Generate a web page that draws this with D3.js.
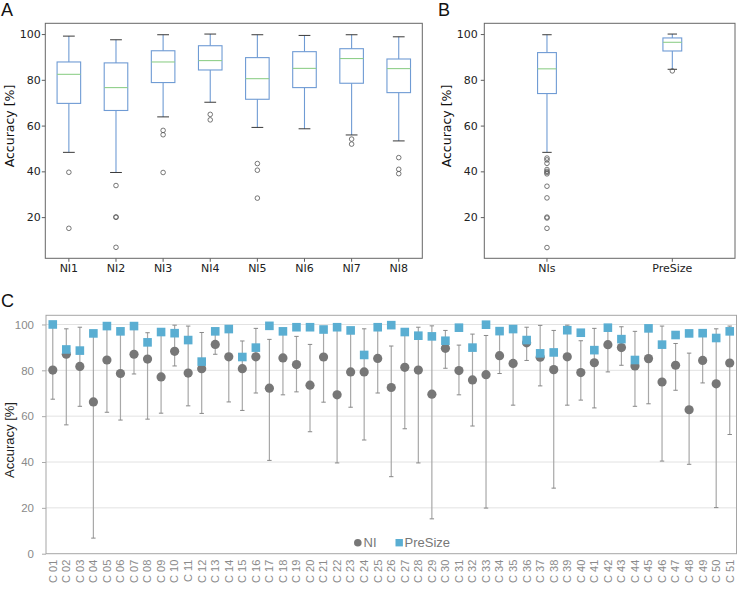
<!DOCTYPE html>
<html><head><meta charset="utf-8">
<script src="https://cdn.jsdelivr.net/npm/d3@7"></script>
<style>
html,body{margin:0;padding:0;background:#fff;}
svg{display:block;}
</style></head>
<body><svg id="chart" width="739" height="590"></svg>
<script>
// ---------- Panel A data (per NI boxplots) ----------
const niLabels = ["NI1","NI2","NI3","NI4","NI5","NI6","NI7","NI8"];
const niWhiskerLow  = [48.3, 39.5, 63.8, 70.2, 59.2, 58.6, 55.9, 53.3];
const niQ1          = [69.7, 66.6, 78.8, 84.3, 71.5, 76.6, 78.5, 74.4];
const niMedian      = [82.4, 76.6, 87.8, 88.4, 80.5, 85.0, 89.3, 84.9];
const niQ3          = [87.8, 87.4, 92.7, 94.9, 89.7, 92.3, 93.6, 89.1];
const niWhiskerHigh = [99.1, 97.5, 99.7, 100.0, 99.7, 99.4, 99.7, 98.8];
const niOutliers = [
  [39.6, 15.1],
  [33.8, 20.1, 19.9, 6.8],
  [57.9, 56.0, 39.5],
  [64.9, 62.5],
  [43.4, 40.5, 28.3],
  [],
  [54.1, 51.9],
  [46.0, 40.9, 39.0]
];

// ---------- Panel B data (NIs vs PreSize) ----------
const bLabels = ["NIs","PreSize"];
const bWhiskerLow  = [48.3, 84.6];
const bQ1          = [74.0, 92.6];
const bMedian      = [84.8, 96.4];
const bQ3          = [91.9, 98.3];
const bWhiskerHigh = [99.7, 100.0];
const bOutliers = [
  [45.8, 45.0, 43.5, 40.8, 40.0, 39.5, 38.9, 33.5, 28.4, 20.0, 19.6, 15.1, 6.7],
  [83.9]
];

// ---------- Panel C data (per case) ----------
const cases = d3.range(1, 52).map(i => "C " + String(i).padStart(2, "0"));
const niMean = [80.1,87.0,81.7,66.2,84.5,78.6,87.0,84.9,77.1,88.3,78.8,80.7,91.3,85.9,80.7,85.9,72.2,85.4,82.5,73.5,
  85.8,69.3,79.3,79.3,85.2,72.5,81.3,80.1,69.6,89.6,79.9,75.8,78.1,86.4,83.0,92.0,85.7,80.3,85.9,79.0,
  83.3,91.2,89.9,81.9,85.1,74.9,82.2,62.8,84.3,74.1,83.2];
const niMax = [99.5,98.1,98.8,96.5,99.5,97.5,99.5,96.4,97.0,99.7,99.3,96.5,97.5,98.0,92.8,98.3,93.5,97.0,94.8,91.3,
  98.0,98.8,97.4,98.1,98.8,90.6,97.0,98.8,99.4,97.4,91.0,95.8,95.2,97.0,98.0,98.8,99.6,97.4,99.7,92.9,
  98.3,98.6,99.0,97.0,98.3,99.3,91.7,87.5,96.0,98.1,99.3];
const niMin = [67.4,56.2,64.3,6.8,61.7,58.3,78.4,58.7,61.3,81.9,64.5,61.2,87.0,66.2,62.5,70.1,40.7,69.3,70.6,53.2,
  66.1,39.6,63.9,49.6,70.1,33.6,54.5,39.6,15.2,80.9,69.3,55.7,19.9,78.6,64.8,84.3,73.2,28.6,64.8,67.0,
  63.6,79.3,82.2,64.3,65.4,40.4,71.3,39.0,74.5,20.1,52.0];
const preSize = [100.0,89.1,88.6,96.1,99.3,97.0,99.3,92.2,96.7,96.2,93.2,83.8,97.0,98.0,85.8,89.9,99.4,97.0,98.8,98.8,
  97.8,98.8,97.4,86.7,98.8,99.7,96.7,95.1,94.8,92.9,98.6,89.9,99.9,97.1,98.0,93.2,87.4,87.8,97.5,96.4,
  88.8,98.6,93.6,84.5,98.3,91.2,95.4,96.1,96.2,94.1,97.0];
const yTicksAB = [20, 40, 60, 80, 100];
const yTicksC = [0, 20, 40, 60, 80, 100];

// ---------- styling ----------
const mplFont = "'DejaVu Sans', sans-serif";
const cFont = "'Liberation Sans', Arial, sans-serif";
const boxColor = "#6f9bd4";
const medColor = "#8fcf8a";
const capColor = "#3a3a3a";
const svg = d3.select("#chart");

function boxPanel(g, labels, lo, q1, med, q3, hi, outs, xRange, boxFrac, tickPad) {
  const x = d3.scaleBand().domain(labels).range(xRange);
  const y = d3.scaleLinear().domain([2.0, 104.7]).range([258.3, 23.3]);
  const bw = x.bandwidth() * boxFrac;
  // axes
  const ya = g.append("g").attr("transform", `translate(${xRange[0]},0)`)
    .call(d3.axisLeft(y).tickValues(yTicksAB).tickSize(3.5).tickPadding(tickPad));
  const xa = g.append("g").attr("transform", `translate(0,258.3)`)
    .call(d3.axisBottom(x).tickSize(3.5).tickPadding(2));
  [ya, xa].forEach(a => {
    a.select(".domain").remove();
    a.selectAll("line").attr("stroke", "#333").attr("stroke-width", 0.8);
    a.selectAll("text").attr("font-family", mplFont).attr("font-size", 11).attr("fill", "#222");
  });
  const items = labels.map((l, i) => ({l, lo: lo[i], q1: q1[i], med: med[i], q3: q3[i], hi: hi[i], outs: outs[i]}));
  const bx = g.selectAll(".bx").data(items).join("g");
  const cx = d => x(d.l) + x.bandwidth() / 2;
  // whiskers
  bx.append("line").attr("x1", cx).attr("x2", cx).attr("y1", d => y(d.q3)).attr("y2", d => y(d.hi))
    .attr("stroke", boxColor).attr("stroke-width", 1.1);
  bx.append("line").attr("x1", cx).attr("x2", cx).attr("y1", d => y(d.q1)).attr("y2", d => y(d.lo))
    .attr("stroke", boxColor).attr("stroke-width", 1.1);
  // caps
  ["hi", "lo"].forEach(k => {
    bx.append("line").attr("x1", d => cx(d) - bw / 4).attr("x2", d => cx(d) + bw / 4)
      .attr("y1", d => y(d[k])).attr("y2", d => y(d[k]))
      .attr("stroke", capColor).attr("stroke-width", 1);
  });
  // box
  bx.append("rect").attr("x", d => cx(d) - bw / 2).attr("width", bw)
    .attr("y", d => y(d.q3)).attr("height", d => y(d.q1) - y(d.q3))
    .attr("fill", "none").attr("stroke", boxColor).attr("stroke-width", 1.1);
  // median
  bx.append("line").attr("x1", d => cx(d) - bw / 2).attr("x2", d => cx(d) + bw / 2)
    .attr("y1", d => y(d.med)).attr("y2", d => y(d.med))
    .attr("stroke", medColor).attr("stroke-width", 1.1);
  // outliers
  bx.each(function(d) {
    d3.select(this).selectAll("circle").data(d.outs).join("circle")
      .attr("cx", cx(d)).attr("cy", v => y(v)).attr("r", 2.3)
      .attr("fill", "none").attr("stroke", "#555").attr("stroke-width", 0.8);
  });
  // frame
  g.append("rect").attr("x", xRange[0]).attr("y", 23.3)
    .attr("width", xRange[1] - xRange[0]).attr("height", 258.3 - 23.3)
    .attr("fill", "none").attr("stroke", "#666").attr("stroke-width", 1);
}

const gA = svg.append("g");
boxPanel(gA, niLabels, niWhiskerLow, niQ1, niMedian, niQ3, niWhiskerHigh, niOutliers, [45.3, 422.3], 0.5, 1);
const gB = svg.append("g");
boxPanel(gB, bLabels, bWhiskerLow, bQ1, bMedian, bQ3, bWhiskerHigh, bOutliers, [484.3, 735], 0.15, 3);

// y labels A & B
[[9, "A"], [446.5, "B"]].forEach(([xp]) => {
  svg.append("text").attr("transform", `translate(${xp},126) rotate(-90)`)
    .attr("text-anchor", "middle").attr("dominant-baseline", "central")
    .attr("font-family", mplFont).attr("font-size", 12.5).attr("fill", "#111").text("Accuracy [%]");
});

// panel letters
[["A", 1, 16], ["B", 438, 16], ["C", 1, 307]].forEach(([t, xp, yp]) => {
  svg.append("text").attr("x", xp).attr("y", yp).attr("font-family", cFont)
    .attr("font-size", 18).attr("fill", "#111").text(t);
});

// ---------- Panel C ----------
const gC = svg.append("g");
const xC = d3.scaleBand().domain(cases).range([46, 736.5]);
const yC = d3.scaleLinear().domain([0, 104]).range([553.7, 315.3]);
// gridlines
gC.selectAll(".grid").data(yTicksC.filter(v => v > 0)).join("line")
  .attr("x1", 46).attr("x2", 736.5).attr("y1", v => yC(v)).attr("y2", v => yC(v))
  .attr("stroke", "#e2e2e2").attr("stroke-width", 1);
// frame
gC.append("rect").attr("x", 46).attr("y", 315.3).attr("width", 736.5 - 46).attr("height", 553.7 - 315.3)
  .attr("fill", "none").attr("stroke", "#a5a5a5").attr("stroke-width", 1);
// y axis
const yaC = gC.append("g").attr("transform", "translate(46,0)")
  .call(d3.axisLeft(yC).tickValues(yTicksC).tickSize(4).tickPadding(8));
yaC.select(".domain").remove();
yaC.selectAll("line").attr("stroke", "#aaa");
yaC.selectAll("text").attr("font-family", cFont).attr("font-size", 11.5).attr("fill", "#8a8a8a");
// x labels
const xaC = gC.append("g").attr("transform", "translate(0,553.7)")
  .call(d3.axisBottom(xC).tickSize(0).tickPadding(0));
xaC.select(".domain").remove();
xaC.selectAll("text").attr("font-family", cFont).attr("font-size", 11).attr("fill", "#8a8a8a")
  .attr("transform", "rotate(-90)").attr("text-anchor", "end")
  .attr("x", -6).attr("y", 0).attr("dy", "0.35em");
// y label
svg.append("text").attr("transform", "translate(9,440) rotate(-90)")
  .attr("text-anchor", "middle").attr("dominant-baseline", "central")
  .attr("font-family", cFont).attr("font-size", 13).attr("fill", "#222").text("Accuracy [%]");

const cData = cases.map((c, i) => ({c, mean: niMean[i], max: niMax[i], min: niMin[i], ps: preSize[i]}));
const ccx = d => xC(d.c) + xC.bandwidth() / 2;
// error bars
gC.selectAll(".eb").data(cData).join("line")
  .attr("x1", ccx).attr("x2", ccx).attr("y1", d => yC(d.max)).attr("y2", d => yC(d.min))
  .attr("stroke", "#a8a8a8").attr("stroke-width", 1.2);
["max", "min"].forEach(k => {
  gC.selectAll(".cap" + k).data(cData).join("line")
    .attr("x1", d => ccx(d) - 2.2).attr("x2", d => ccx(d) + 2.2)
    .attr("y1", d => yC(d[k])).attr("y2", d => yC(d[k]))
    .attr("stroke", "#888").attr("stroke-width", 1);
});
// NI circles
gC.selectAll(".ni").data(cData).join("circle")
  .attr("cx", ccx).attr("cy", d => yC(d.mean)).attr("r", 4.6).attr("fill", "#777777");
// PreSize squares
const sq = 8.6;
gC.selectAll(".ps").data(cData).join("rect")
  .attr("x", d => ccx(d) - sq / 2).attr("y", d => yC(d.ps) - sq / 2)
  .attr("width", sq).attr("height", sq).attr("fill", "#5aaed2");

// legend
const lg = gC.append("g");
lg.append("circle").attr("cx", 357.8).attr("cy", 542.7).attr("r", 3.8).attr("fill", "#777");
lg.append("text").attr("x", 363.5).attr("y", 542.7).attr("dy", "0.35em")
  .attr("font-family", cFont).attr("font-size", 13).attr("fill", "#777").text("NI");
lg.append("rect").attr("x", 395.5).attr("y", 539).attr("width", 7.4).attr("height", 7.4).attr("fill", "#5aaed2");
lg.append("text").attr("x", 404.5).attr("y", 542.7).attr("dy", "0.35em")
  .attr("font-family", cFont).attr("font-size", 13).attr("fill", "#777").text("PreSize");
</script></body></html>
